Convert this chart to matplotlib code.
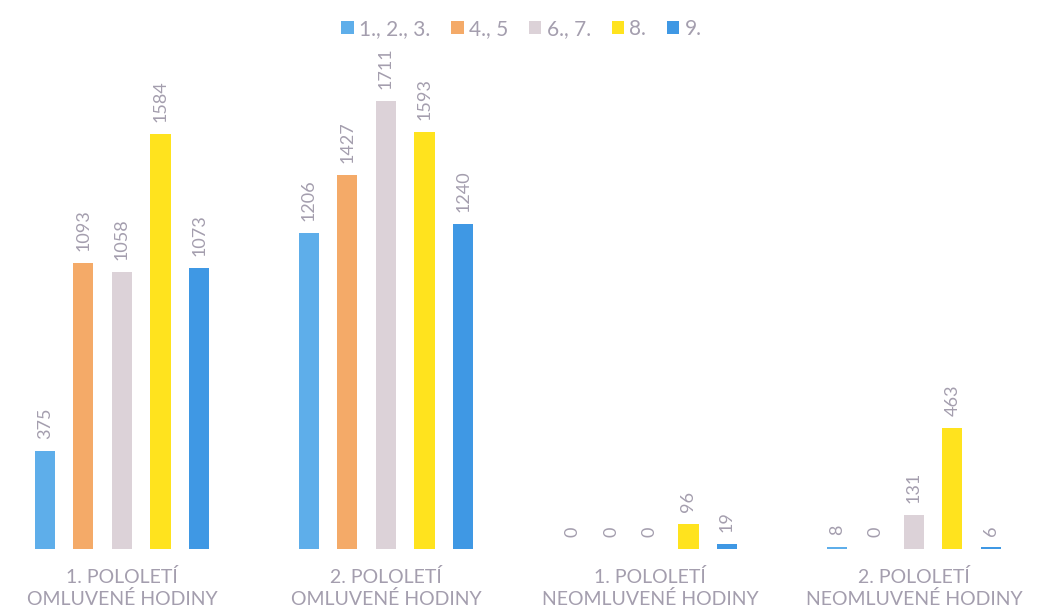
import numpy as np
import matplotlib.pyplot as plt

plt.rcParams['font.family'] = ['Lato', 'DejaVu Sans']

# data
categories = ['1. POLOLETÍ\nOMLUVENÉ HODINY', '2. POLOLETÍ\nOMLUVENÉ HODINY',
              '1. POLOLETÍ\nNEOMLUVENÉ HODINY', '2. POLOLETÍ\nNEOMLUVENÉ HODINY']
series_names = ['1., 2., 3.', '4., 5', '6., 7.', '8.', '9.']
values_123 = [375, 1206, 0, 8]
values_45 = [1093, 1427, 0, 0]
values_67 = [1058, 1711, 0, 131]
values_8 = [1584, 1593, 96, 463]
values_9 = [1073, 1240, 19, 6]
series = [values_123, values_45, values_67, values_8, values_9]
colors = ['#5EAEEA', '#F4AA68', '#DCD2D8', '#FFE31E', '#3F98E4']
text_col = '#A49EAE'

fig = plt.figure(figsize=(10.43, 6.11), dpi=100)
ax = fig.add_axes([0, (611 - 549) / 611, 1, (549 - 60) / 611])

x = np.arange(len(categories))
width = 0.076
step = 0.146
for i, (vals, col, name) in enumerate(zip(series, colors, series_names)):
    pos = x + (i - 2) * step
    bars = ax.bar(pos, vals, width, color=col, label=name)
    for b, v in zip(bars, vals):
        ax.text(b.get_x() + b.get_width() / 2, v + 45, str(v), rotation=90,
                ha='center', va='bottom', fontsize=13, color=text_col)

ax.set_xlim(-0.462, 3.489)
ax.set_ylim(0, 1866)
for s in ax.spines.values():
    s.set_visible(False)
ax.set_yticks([])
ax.set_xticks([])

for xi, cat in zip(x, categories):
    ax.text(xi, -72, cat, ha='center', va='top', fontsize=14, color=text_col,
            linespacing=1.3)

fig.legend(loc='upper center', bbox_to_anchor=(0.5, 1.0), ncol=5, frameon=False,
           fontsize=15, labelcolor=text_col, handlelength=0.6, handleheight=0.6,
           handletextpad=0.25, columnspacing=1.0)

fig.savefig('out.png', dpi=100)
